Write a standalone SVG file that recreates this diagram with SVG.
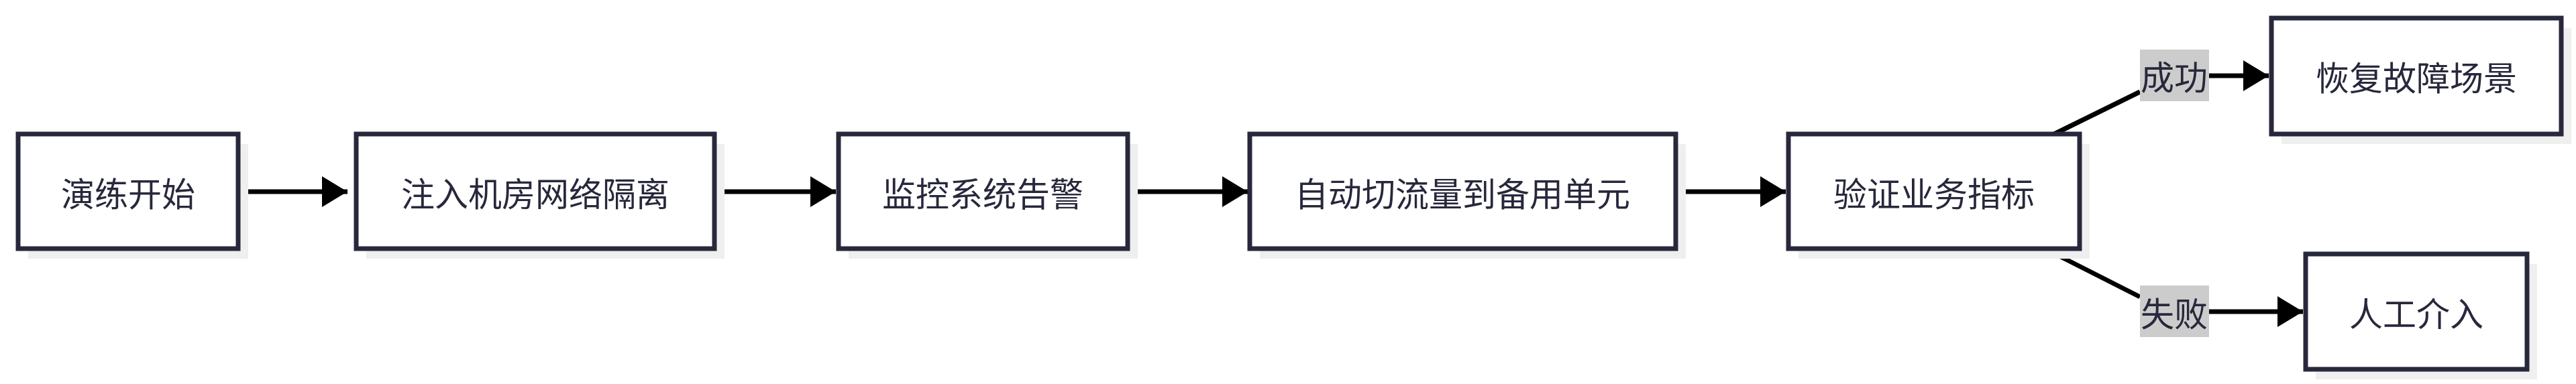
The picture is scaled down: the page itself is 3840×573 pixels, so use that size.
<svg xmlns="http://www.w3.org/2000/svg" width="3840" height="573" viewBox="0 0 3840 573">
<style>
.sh{fill:#efefef}
.box{fill:#fff;stroke:#28283c;stroke-width:7}
.t{font-family:"Noto Sans CJK SC","Noto Sans",sans-serif;font-size:50px;fill:#28283c;text-anchor:middle;dominant-baseline:central}
.e{fill:none;stroke:#000;stroke-width:7}
.lb{fill:#cccccc}
</style>
<defs>
<marker id="ah" markerUnits="userSpaceOnUse" markerWidth="40" markerHeight="46" refX="38" refY="23" orient="auto"><path d="M0,0 L38,23 L0,46 Z" fill="#000"/></marker>
</defs>
<rect width="3840" height="573" fill="#fff"/>
<g id="connectors">
<path class="e" d="M355,286 H518" marker-end="url(#ah)"/>
<path class="e" d="M1065,286 H1246" marker-end="url(#ah)"/>
<path class="e" d="M1681,286 H1860" marker-end="url(#ah)"/>
<path class="e" d="M2498,286 H2662" marker-end="url(#ah)"/>
<path class="e" d="M3056,203 L3190,137"/>
<path class="e" d="M3293,113 H3382" marker-end="url(#ah)"/>
<path class="e" d="M3056,375 L3190,443"/>
<path class="e" d="M3293,465 H3433" marker-end="url(#ah)"/>
<rect class="lb" x="3190" y="74" width="103" height="77"/>
<text class="t" x="3241" y="112">成功</text>
<rect class="lb" x="3190" y="426" width="103" height="77"/>
<text class="t" x="3241" y="465">失败</text>
</g>
<g id="n1"><rect class="sh" x="42" y="215" width="328" height="171"/><rect class="box" x="27" y="200" width="328" height="171"/><text class="t" x="191" y="286">演练开始</text></g>
<g id="n2"><rect class="sh" x="546" y="215" width="534" height="171"/><rect class="box" x="531" y="200" width="534" height="171"/><text class="t" x="798" y="286">注入机房网络隔离</text></g>
<g id="n3"><rect class="sh" x="1265" y="215" width="431" height="171"/><rect class="box" x="1250" y="200" width="431" height="171"/><text class="t" x="1465" y="286">监控系统告警</text></g>
<g id="n4"><rect class="sh" x="1878" y="215" width="635" height="171"/><rect class="box" x="1863" y="200" width="635" height="171"/><text class="t" x="2180" y="286">自动切流量到备用单元</text></g>
<g id="n5"><rect class="sh" x="2681" y="215" width="434" height="171"/><rect class="box" x="2666" y="200" width="434" height="171"/><text class="t" x="2883" y="286">验证业务指标</text></g>
<g id="n6"><rect class="sh" x="3401" y="42" width="432" height="173"/><rect class="box" x="3386" y="27" width="432" height="173"/><text class="t" x="3602" y="113">恢复故障场景</text></g>
<g id="n7"><rect class="sh" x="3452" y="394" width="330" height="172"/><rect class="box" x="3437" y="379" width="330" height="172"/><text class="t" x="3602" y="465">人工介入</text></g>
</svg>
